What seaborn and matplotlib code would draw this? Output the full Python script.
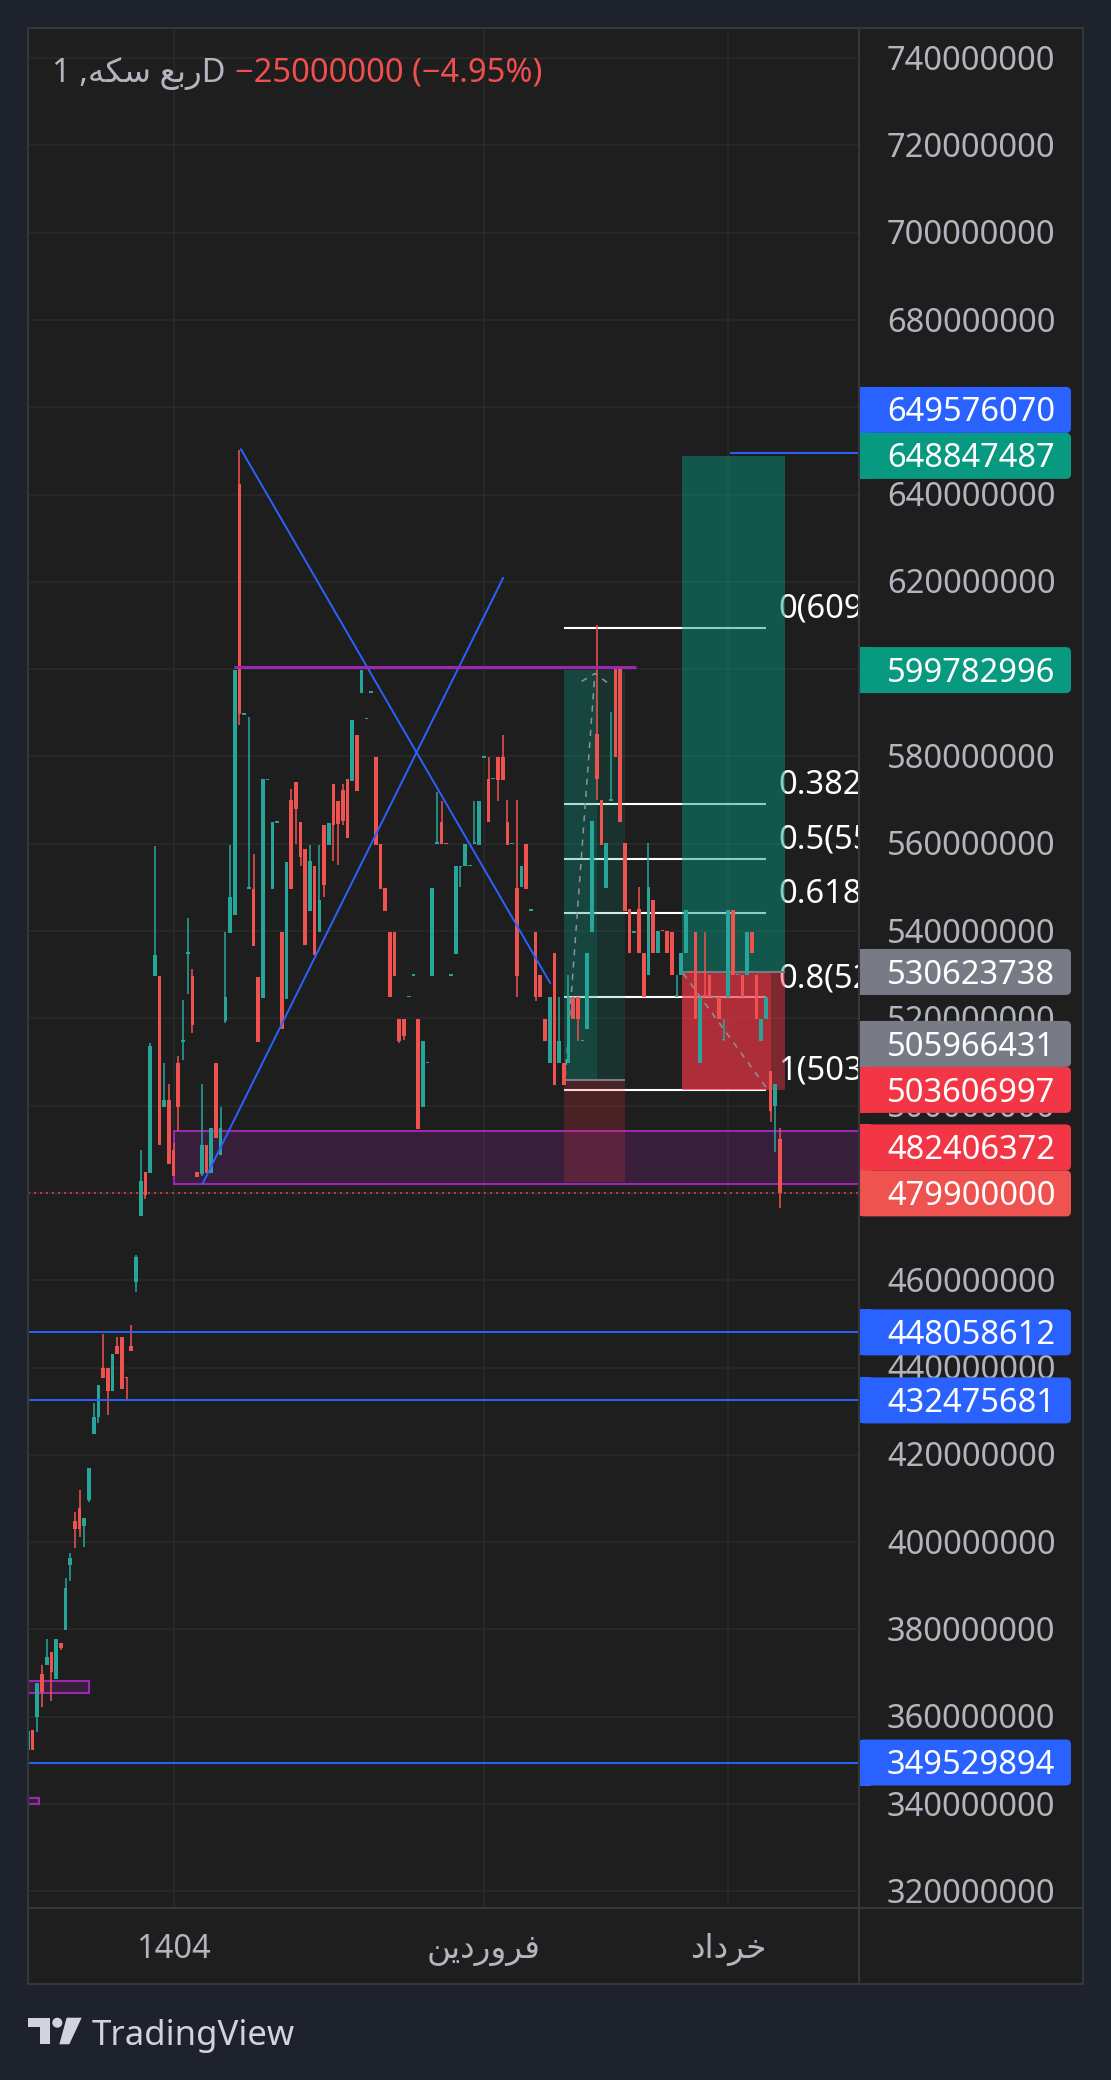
import numpy as np
import pandas as pd
import seaborn as sns
import matplotlib.pyplot as plt
from matplotlib.patches import Rectangle, FancyBboxPatch, Circle, Polygon
from matplotlib.colors import to_rgba
from matplotlib.font_manager import FontProperties
from matplotlib.textpath import TextPath

# ---------------- data ----------------
symbol = "ربع سکه"
interval = "1D"
change_txt = "−25000000 (−4.95%)"

# daily candles, prices in millions (first candle is cut by the left edge)
first_bar = -1
opens = [
    352.5, 357.0, 359.9, 369.9, 371.8, 374.9, 368.6, 376.9, 379.8, 394.7,
    404.9, 407.9, 403.8, 409.7, 424.7, 428.6, 440.0, 440.0, 434.7, 445.0,
    446.9, 437.9, 445.0, 459.7, 474.7, 484.7, 484.6, 529.6, 529.8, 499.7,
    501.2, 489.8, 509.7, 514.6, 534.8, 529.8, 484.7, 484.4, 490.9, 484.6,
    509.7, 488.6, 519.5, 539.5, 543.6, 642.4, 589.6, 549.7, 549.7, 529.5,
    524.7, 574.6, 549.6, 564.8, 539.8, 524.5, 570.1, 574.1, 565.0, 558.9,
    544.7, 555.0, 539.7, 564.4, 559.8, 573.7, 569.8, 572.3, 574.9, 574.4,
    585.0, 594.6, 588.6, 594.6, 579.8, 560.0, 549.8, 539.8, 539.8, 519.9,
    519.9, 524.9, 529.8, 519.9, 499.8, 509.7, 529.8, 560.0, 565.0, 560.1,
    529.8, 534.8, 554.6, 555.0, 554.9, 560.0, 559.8, 579.7, 574.9, 574.8,
    579.8, 579.8, 565.0, 559.9, 549.8, 550.0, 560.0, 544.7, 539.8, 530.0,
    519.9, 509.8, 535.0, 509.7, 509.7, 509.7, 524.8, 524.8, 514.7, 517.6,
    539.7, 585.1, 570.0, 549.8, 569.9, 600.0, 600.0, 560.1, 545.0, 539.6,
    545.0, 535.0, 530.0, 547.0, 535.0, 540.1, 540.0, 539.7, 525.0, 530.0,
    535.0, 530.7, 539.7, 509.7, 525.3, 530.0, 524.7, 524.8, 515.0, 524.8,
    544.8, 529.9, 530.0, 530.0, 539.7, 530.0, 514.8, 519.8, 507.9, 499.9,
    492.3]
highs = [
    357.5, 357.0, 367.8, 371.9, 377.9, 374.9, 377.9, 376.9, 391.9, 397.6,
    407.0, 412.0, 405.6, 416.9, 431.9, 436.1, 447.8, 440.0, 443.0, 446.9,
    446.9, 437.9, 449.8, 465.8, 489.8, 484.7, 514.3, 559.4, 529.8, 509.7,
    504.9, 491.5, 511.3, 524.1, 543.1, 531.2, 484.7, 504.9, 490.9, 494.8,
    509.7, 499.8, 539.7, 559.8, 599.8, 650.2, 589.9, 589.1, 557.7, 529.5,
    574.8, 574.9, 564.9, 565.0, 539.8, 555.8, 572.6, 574.1, 565.0, 558.9,
    559.8, 555.0, 559.8, 564.4, 564.8, 573.7, 569.8, 573.7, 574.9, 588.4,
    585.0, 599.8, 588.9, 594.8, 579.8, 560.0, 549.8, 539.8, 539.8, 519.9,
    519.9, 525.1, 530.0, 519.9, 514.9, 509.9, 549.8, 571.8, 569.8, 560.1,
    530.0, 555.0, 555.0, 560.0, 555.1, 569.8, 569.8, 579.9, 579.8, 575.0,
    579.8, 585.0, 570.1, 560.1, 570.1, 555.0, 560.0, 544.9, 539.8, 530.0,
    519.9, 525.0, 535.0, 524.8, 509.7, 530.0, 524.8, 524.8, 514.9, 535.0,
    565.1, 610.0, 570.0, 560.1, 590.1, 600.0, 600.0, 560.1, 545.0, 539.8,
    550.0, 535.0, 560.1, 547.0, 540.0, 540.1, 540.0, 539.7, 530.0, 535.0,
    544.8, 530.7, 539.7, 524.8, 539.7, 530.0, 524.9, 524.8, 519.8, 544.8,
    544.8, 530.1, 530.0, 539.7, 539.7, 530.0, 519.8, 524.8, 507.9, 504.9,
    494.9]
lows = [
    351.5, 352.3, 356.6, 362.2, 371.8, 363.6, 368.6, 375.2, 379.8, 391.0,
    398.7, 401.3, 399.0, 409.1, 424.7, 427.3, 437.5, 429.2, 434.7, 443.0,
    435.2, 432.5, 443.9, 457.2, 474.7, 478.6, 484.6, 529.6, 491.1, 499.7,
    486.6, 483.8, 494.3, 510.4, 525.5, 516.6, 483.7, 483.8, 484.6, 484.6,
    492.6, 488.6, 518.9, 539.5, 543.6, 587.2, 589.6, 549.7, 536.6, 514.6,
    524.7, 574.6, 549.6, 564.8, 517.6, 524.5, 549.7, 560.0, 555.0, 536.9,
    544.7, 534.6, 539.7, 547.9, 559.8, 556.1, 555.2, 564.3, 561.4, 574.4,
    572.0, 594.6, 588.6, 594.6, 559.8, 549.7, 544.7, 524.8, 529.8, 514.3,
    515.0, 524.9, 529.8, 494.7, 499.8, 509.7, 529.8, 560.0, 560.0, 559.9,
    529.8, 534.8, 550.0, 555.0, 554.9, 560.0, 559.8, 579.7, 564.9, 574.8,
    569.9, 574.7, 559.8, 559.9, 525.0, 550.0, 549.7, 544.7, 524.0, 524.8,
    514.7, 509.8, 504.8, 509.7, 504.8, 509.7, 519.8, 514.8, 514.7, 517.6,
    539.7, 570.0, 559.8, 549.8, 569.8, 579.9, 565.0, 544.7, 535.0, 539.6,
    535.0, 524.8, 530.0, 535.0, 535.0, 539.9, 535.0, 530.0, 524.8, 530.0,
    535.0, 530.5, 519.8, 509.7, 524.8, 524.8, 524.7, 519.8, 514.8, 524.8,
    530.0, 529.9, 524.8, 530.0, 535.0, 519.8, 514.8, 519.8, 496.2, 489.4,
    476.5]
closes = [
    356.8, 352.3, 367.8, 365.7, 373.6, 370.2, 377.9, 375.8, 389.6, 396.4,
    403.1, 403.0, 405.6, 416.9, 428.7, 436.1, 437.5, 434.7, 443.0, 443.0,
    435.2, 437.5, 443.9, 465.4, 482.7, 479.5, 513.7, 534.4, 491.1, 501.2,
    486.6, 483.8, 499.7, 515.0, 535.2, 518.4, 483.7, 490.9, 484.6, 494.8,
    492.6, 494.8, 524.8, 547.7, 599.8, 589.7, 589.9, 550.0, 536.6, 514.6,
    574.8, 574.9, 564.9, 565.0, 517.6, 555.8, 549.7, 568.0, 556.9, 536.9,
    556.1, 534.6, 547.2, 550.5, 564.8, 564.2, 564.6, 565.3, 561.4, 588.4,
    572.0, 599.8, 588.9, 594.8, 559.8, 549.7, 544.7, 524.8, 529.8, 514.7,
    515.9, 525.1, 530.0, 494.7, 514.9, 509.9, 549.8, 560.2, 560.0, 559.9,
    530.0, 555.0, 555.0, 560.0, 555.1, 560.3, 569.8, 579.9, 564.9, 575.0,
    574.7, 574.7, 559.8, 560.1, 529.8, 554.8, 549.7, 544.9, 524.8, 524.8,
    514.7, 525.0, 504.8, 514.7, 504.8, 524.8, 519.8, 519.8, 514.9, 535.0,
    565.1, 574.8, 559.8, 560.1, 570.1, 579.9, 565.0, 544.7, 535.0, 539.8,
    535.0, 524.8, 550.0, 535.0, 540.0, 539.9, 535.0, 530.0, 525.3, 535.0,
    544.8, 530.5, 519.8, 524.8, 524.8, 524.8, 524.9, 519.8, 515.2, 544.8,
    530.0, 530.1, 524.8, 539.7, 535.0, 519.8, 519.8, 524.8, 498.8, 504.9,
    479.9]

price_ticks = [740, 720, 700, 680, 660, 640, 620, 600, 580, 560, 540,
               520, 500, 480, 460, 440, 420, 400, 380, 360, 340, 320]
time_ticks = [30, 96, 148]
time_labels = ["1404", "فروردین", "خرداد"]

last_price = 479900000
blue_levels = [448058612, 432475681, 349529894]
short_level = 649576070
short_level_from = 148.4

scale_values = [649576070, 648847487, 599782996, 530623738, 505966431,
                503606997, 482406372, 479900000, 448058612, 432475681,
                349529894]
scale_kinds = ["blue", "green", "green", "grey", "grey", "red", "red",
               "last", "blue", "blue", "blue"]

# drawings, (bar, price in millions)
trend_a = ([44.3, 110.1], [650.4, 528.1])
trend_b = ([36.1, 100.1], [482.0, 620.9])
resist = (42.9, 128.4, 600.5)
zone = (30.1, 482.0, 494.2)
small_zones = [(-2.0, 12.1, 365.5, 368.1), (-2.0, 1.3, 340.0, 341.4)]

fib_levels = ["0", "0.382", "0.5", "0.618", "0.8", "1"]
fib_top = 609500000
fib_bottom = 503606997
fib_from, fib_to, fib_text_at = 113.1, 156.0, 158.6

positions = [
    dict(start=113.1, split=120.1, end=126.0,
         entry=505966431, target=599782996, stop=482406372),
    dict(start=138.2, split=157.1, end=160.1,
         entry=530623738, target=648847487, stop=503606997),
]
# alphas: green before split, green after, red before, red after
pos_alpha = [(0.33, 0.17, 0.2, 0.2), (0.47, 0.47, 0.68, 0.45)]
pos_paths = [
    [([113.3, 119.6], [506.5, 598.8]),
     ([116.8, 119.6, 122.8], [597.2, 599.0, 596.5])],
    [([138.4, 156.5], [530.3, 503.5])],
]

# ---------------- style ----------------
BG = "#1e222d"
PANEL = "#1e1e1e"
GRID = "#2a2a2a"
EDGE = "#35373c"
TXT = "#b2b5be"
UP = "#26a69a"
DOWN = "#ef5350"
BLUE = "#2962ff"
PURPLE = "#9c27b0"
TEAL = "#089981"
RED = "#f23645"
KIND_COL = {"blue": BLUE, "green": TEAL, "grey": "#787b86",
            "red": RED, "last": "#ef5350"}
FS = 23.5

sns.set_theme(style="dark", rc={"axes.facecolor": PANEL, "figure.facecolor": BG})
plt.rcParams["font.family"] = ["Noto Sans", "DejaVu Sans"]

# simple persian shaping (presentation forms, visual order)
AR = {
    "ا": ("\uFE8D", "\uFE8E", None, None),
    "ب": ("\uFE8F", "\uFE90", "\uFE91", "\uFE92"),
    "خ": ("\uFEA5", "\uFEA6", "\uFEA7", "\uFEA8"),
    "د": ("\uFEA9", "\uFEAA", None, None),
    "ر": ("\uFEAD", "\uFEAE", None, None),
    "س": ("\uFEB1", "\uFEB2", "\uFEB3", "\uFEB4"),
    "ع": ("\uFEC9", "\uFECA", "\uFECB", "\uFECC"),
    "ف": ("\uFED1", "\uFED2", "\uFED3", "\uFED4"),
    "ن": ("\uFEE5", "\uFEE6", "\uFEE7", "\uFEE8"),
    "ه": ("\uFEE9", "\uFEEA", "\uFEEB", "\uFEEC"),
    "و": ("\uFEED", "\uFEEE", None, None),
    "ک": ("\uFB8E", "\uFB8F", "\uFB90", "\uFB91"),
    "ی": ("\uFBFC", "\uFBFD", "\uFBFE", "\uFBFF"),
}


def rtl(text):
    if not any(ch in AR for ch in text):
        return text
    out = []
    for k, ch in enumerate(text):
        if ch not in AR:
            out.append(ch)
            continue
        prev = text[k - 1] if k > 0 else ""
        nxt = text[k + 1] if k + 1 < len(text) else ""
        jp = prev in AR and AR[prev][2] is not None
        jn = nxt in AR and AR[ch][2] is not None
        iso, fin, ini, med = AR[ch]
        out.append(med if jp and jn else fin if jp else ini if jn else iso)
    return "".join(reversed(out))


fp = FontProperties(family=["Noto Sans"], size=FS)


def cut_to(text, width_px):
    # keep the characters up to the one that crosses the price scale
    for n in range(1, len(text) + 1):
        w = TextPath((0, 0), text[:n], prop=fp).get_extents().x1 * 100 / 72
        if w >= width_px:
            return text[:n]
    return text


# ---------------- layout ----------------
W, H = 1111, 2080
AX_L, AX_R, AX_T, AX_B = 28, 859, 28, 1908
PANEL_R, PANEL_B = 1083, 1984
XMIN, XMAX = -0.98, 175.8
YMIN, YMAX = 316.2, 746.87


def py(p):
    return AX_T + (YMAX - p) / (YMAX - YMIN) * (AX_B - AX_T)


def px(b):
    return AX_L + (b - XMIN) / (XMAX - XMIN) * (AX_R - AX_L)


fig = plt.figure(figsize=(W / 100, H / 100), dpi=100)
fig.patch.set_facecolor(BG)

bg = fig.add_axes([0, 0, 1, 1])
bg.set_xlim(0, W)
bg.set_ylim(H, 0)
bg.axis("off")
bg.set_zorder(0)
bg.add_patch(Rectangle((AX_L, AX_T), PANEL_R - AX_L, PANEL_B - AX_T, fc=PANEL, ec="none"))

ax = fig.add_axes([AX_L / W, 1 - AX_B / H, (AX_R - AX_L) / W, (AX_B - AX_T) / H])
ax.set_zorder(1)
ax.set_facecolor(PANEL)
ax.set_xlim(XMIN, XMAX)
ax.set_ylim(YMIN, YMAX)
ax.set_xticks([])
ax.set_yticks([])
for s in ax.spines.values():
    s.set_visible(False)

for p in price_ticks:
    ax.axhline(p, color=GRID, lw=1.1, zorder=0.5)
for b in time_ticks:
    ax.axvline(b, color=GRID, lw=1.1, zorder=0.5)

# fibonacci (under the position boxes), labels run into the price scale
span = (fib_top - fib_bottom) / 1e6
room = AX_R - px(fib_text_at)
for lv in fib_levels:
    p = fib_top / 1e6 - float(lv) * span
    ax.hlines(p, fib_from, fib_to, color="white", lw=1.5, zorder=1)
    full = f"{lv}({round(fib_top - float(lv) * (fib_top - fib_bottom))})"
    ax.annotate(cut_to(full, room), (fib_text_at, p), xytext=(0, 13.5),
                textcoords="offset points", ha="left", va="center",
                color="white", fontsize=FS, zorder=1, clip_on=True)

# zones
ax.add_patch(Rectangle((zone[0], zone[1]), XMAX + 2 - zone[0], zone[2] - zone[1],
                       fc=to_rgba(PURPLE, 0.2), ec=PURPLE, lw=1.5, zorder=1.5))
for x0, x1, y0, y1 in small_zones:
    ax.add_patch(Rectangle((x0, y0), x1 - x0, y1 - y0,
                           fc=to_rgba(PURPLE, 0.2), ec=PURPLE, lw=1.5, zorder=1.5))

# long position tools
for pos, al in zip(positions, pos_alpha):
    e, t, s = pos["entry"] / 1e6, pos["target"] / 1e6, pos["stop"] / 1e6
    for (a0, a1), ga, ra in [((pos["start"], pos["split"]), al[0], al[2]),
                             ((pos["split"], pos["end"]), al[1], al[3])]:
        ax.add_patch(Rectangle((a0, e), a1 - a0, t - e, fc=to_rgba(TEAL, ga), ec="none", zorder=2))
        ax.add_patch(Rectangle((a0, s), a1 - a0, e - s, fc=to_rgba(RED, ra), ec="none", zorder=2))
    ax.hlines(e, pos["start"], pos["end"], color="#787b86", lw=1.5, zorder=2.5)
for paths in pos_paths:
    for xs, ys in paths:
        sns.lineplot(x=xs, y=ys, ax=ax, sort=False, color="#8f9199", lw=1.1,
                     linestyle=(0, (4, 4)), zorder=2.6)

# candles
df = pd.DataFrame({"o": opens, "h": highs, "l": lows, "c": closes})
df["bar"] = np.arange(len(df)) + first_bar
df["col"] = np.where(df["c"] >= df["o"], UP, DOWN)
body_lo = df[["o", "c"]].min(axis=1)
body_h = (df["c"] - df["o"]).abs().clip(lower=0.3)
ax.vlines(df["bar"], df["l"], df["h"], colors=df["col"], lw=1.1, zorder=3)
ax.bar(df["bar"], body_h, bottom=body_lo, width=0.78, color=df["col"], lw=0, zorder=3)

# lines
sns.lineplot(x=trend_a[0], y=trend_a[1], ax=ax, color=BLUE, lw=1.4, zorder=4)
sns.lineplot(x=trend_b[0], y=trend_b[1], ax=ax, color=BLUE, lw=1.4, zorder=4)
ax.hlines(resist[2], resist[0], resist[1], color=PURPLE, lw=2.2, zorder=4)
for v in blue_levels:
    ax.axhline(v / 1e6, color=BLUE, lw=1.4, zorder=4)
ax.hlines(short_level / 1e6, short_level_from, XMAX, color=BLUE, lw=1.4, zorder=4)
ax.axhline(last_price / 1e6, color=RED, lw=1.2, ls=(0, (1.2, 2.4)), zorder=4.5)

# ---------------- overlay: scales, labels, frame ----------------
ov = fig.add_axes([0, 0, 1, 1])
ov.set_xlim(0, W)
ov.set_ylim(H, 0)
ov.axis("off")
ov.set_zorder(2)

BASE = 11.6  # half digit height in px

# price labels pushed up when they collide
order = np.argsort(scale_values)
prev_y = None
ys = {}
for k in order:
    y = py(scale_values[k] / 1e6)
    if prev_y is not None:
        y = min(y, prev_y - 46)
    ys[k] = y
    prev_y = y

# scale ticks (those fully under a label box are not drawn)
for p in price_ticks:
    ty = py(p)
    if any(abs(ty - by) < 11 for by in ys.values()):
        continue
    ov.text(887, ty + BASE, f"{p * 1000000}", color=TXT, fontsize=FS,
            ha="left", va="baseline", zorder=1)

for k, y in ys.items():
    col = KIND_COL[scale_kinds[k]]
    ov.add_patch(FancyBboxPatch((AX_R, y - 23), 1071 - AX_R, 46,
                                boxstyle="round,pad=0,rounding_size=5",
                                fc=col, ec="none", zorder=2))
    ov.add_patch(Rectangle((AX_R, y - 23), 12, 46, fc=col, ec="none", zorder=2))
    ov.text(887, y + BASE, f"{scale_values[k]}", color="white", fontsize=FS,
            ha="left", va="baseline", zorder=3)

for b, lab in zip(time_ticks, time_labels):
    ov.text(px(b), 1958, rtl(lab), color=TXT, fontsize=FS, ha="center", va="baseline")

# frame and separators
ov.add_patch(Rectangle((AX_L, AX_T), PANEL_R - AX_L, PANEL_B - AX_T, fc="none", ec=EDGE, lw=1.5, zorder=4))
ov.plot([AX_R, AX_R], [AX_T, PANEL_B], color=EDGE, lw=1.5, zorder=4)
ov.plot([AX_L, PANEL_R], [AX_B, AX_B], color=EDGE, lw=1.5, zorder=4)

# title
ov.text(52, 82, rtl(symbol + ", " + interval[0]) + interval[1:], color=TXT,
        fontsize=FS, ha="left", va="baseline", zorder=5)
ov.text(235, 82, change_txt, color="#f04f4f", fontsize=FS, ha="left", va="baseline", zorder=5)

# TradingView mark
LOGO = "#d1d4dc"
ov.add_patch(Rectangle((28.3, 2017.7), 21.7, 9, fc=LOGO, ec="none"))
ov.add_patch(Rectangle((40, 2017.7), 10, 26.6, fc=LOGO, ec="none"))
ov.add_patch(Circle((57.3, 2022.7), 5, fc=LOGO, ec="none"))
ov.add_patch(Polygon([(66.7, 2017.7), (81.7, 2017.7), (69.3, 2044.3), (59.3, 2044.3)],
                     closed=True, fc=LOGO, ec="none"))
ov.text(92, 2045, "TradingView", color=LOGO, fontsize=25, ha="left", va="baseline")

plt.savefig("out.png", dpi=100, facecolor=fig.get_facecolor())
